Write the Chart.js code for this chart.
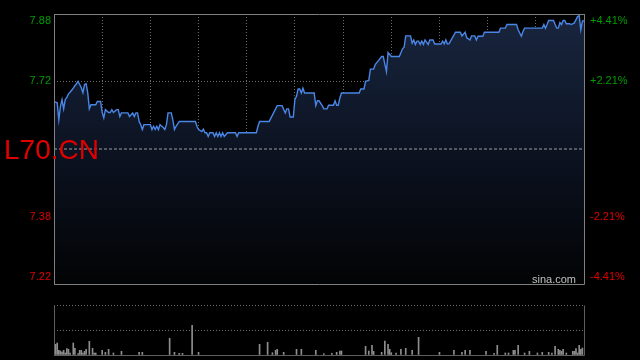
<!DOCTYPE html>
<html>
<head>
<meta charset="utf-8">
<script src="https://cdn.jsdelivr.net/npm/chart.js@4.4.1/dist/chart.umd.min.js"></script>
<style>
  html, body { margin: 0; padding: 0; background: #000; }
  #wrap { position: relative; width: 640px; height: 360px; background: #000; overflow: hidden; font-family: "Liberation Sans", Arial, sans-serif; }
  #priceBox { position: absolute; left: 0; top: 0; width: 640px; height: 290px; }
  #volBox { position: absolute; left: 0; top: 295px; width: 640px; height: 65px; }
  #symbol { position: absolute; left: 4px; top: 136px; font-size: 28px; line-height: 28px; color: #e10000; }
  #brand { position: absolute; left: 532px; top: 273px; font-size: 11px; line-height: 12px; color: #c0c0c0; }
</style>
</head>
<body>
<div id="wrap">
  <div id="priceBox"><canvas id="priceChart"></canvas></div>
  <div id="volBox"><canvas id="volChart"></canvas></div>
  <div id="symbol">L70.CN</div>
  <div id="brand">sina.com</div>
</div>
<script>
// Quote data
const prevClose = 7.55;
const pctTicks = [-4.41, -2.21, 0, 2.21, 4.41];
const gridMinutes = [0, 30, 60, 90, 120, 150, 180, 210, 240, 270, 300, 330];
const volTicks = [0, 25000, 50000];

// minute index -> last price
const times = [
    0, 2, 3, 4, 5, 6, 7, 8, 9, 10,
    11, 12, 13, 14, 15, 16, 17, 18, 19, 20,
    21, 22, 23, 26, 27, 29, 30, 31, 32, 34,
    35, 36, 37, 39, 40, 41, 42, 46, 47, 49,
    50, 51, 52, 53, 54, 55, 56, 60, 61, 62,
    63, 64, 65, 66, 68, 69, 70, 71, 73, 74,
    75, 76, 78, 88, 89, 90, 92, 93, 94, 95,
    96, 97, 99, 100, 101, 102, 103, 104, 105, 106,
    108, 113, 114, 115, 126, 127, 128, 134, 139, 142,
    144, 145, 146, 147, 149, 150, 151, 152, 153, 154,
    155, 156, 162, 163, 164, 165, 167, 168, 170, 171,
    174, 175, 176, 177, 178, 179, 190, 191, 193, 194,
    196, 197, 199, 200, 202, 204, 205, 207, 208, 210,
    215, 217, 218, 219, 222, 223, 224, 225, 226, 227,
    228, 229, 230, 231, 233, 234, 236, 237, 241, 242,
    243, 244, 245, 246, 248, 250, 253, 254, 256, 257,
    259, 260, 262, 263, 264, 267, 268, 277, 278, 281,
    282, 288, 289, 290, 291, 292, 293, 304, 305, 306,
    307, 308, 311, 313, 314, 315, 316, 317, 318, 319,
    321, 322, 324, 326, 327, 328, 329, 330
];
const prices = [
    7.667, 7.664, 7.622, 7.655, 7.672, 7.649, 7.672, 7.677, 7.686, 7.690,
    7.695, 7.700, 7.706, 7.711, 7.717, 7.709, 7.701, 7.689, 7.709, 7.711,
    7.689, 7.649, 7.659, 7.659, 7.667, 7.667, 7.640, 7.627, 7.647, 7.640,
    7.640, 7.647, 7.640, 7.647, 7.647, 7.630, 7.639, 7.639, 7.630, 7.639,
    7.630, 7.639, 7.639, 7.618, 7.610, 7.598, 7.610, 7.610, 7.598, 7.606,
    7.598, 7.606, 7.598, 7.610, 7.603, 7.598, 7.610, 7.639, 7.639, 7.622,
    7.598, 7.606, 7.618, 7.618, 7.606, 7.598, 7.593, 7.599, 7.590, 7.590,
    7.581, 7.590, 7.590, 7.581, 7.590, 7.581, 7.590, 7.581, 7.590, 7.581,
    7.590, 7.590, 7.581, 7.590, 7.590, 7.606, 7.618, 7.618, 7.657, 7.657,
    7.639, 7.649, 7.649, 7.629, 7.629, 7.672, 7.680, 7.698, 7.698, 7.688,
    7.700, 7.688, 7.688, 7.657, 7.669, 7.669, 7.657, 7.649, 7.649, 7.658,
    7.658, 7.669, 7.658, 7.658, 7.676, 7.688, 7.688, 7.698, 7.698, 7.717,
    7.719, 7.747, 7.747, 7.758, 7.768, 7.778, 7.778, 7.741, 7.788, 7.778,
    7.778, 7.797, 7.801, 7.829, 7.829, 7.811, 7.819, 7.808, 7.816, 7.816,
    7.808, 7.816, 7.808, 7.819, 7.808, 7.819, 7.819, 7.809, 7.809, 7.816,
    7.809, 7.819, 7.809, 7.810, 7.824, 7.838, 7.838, 7.829, 7.838, 7.824,
    7.819, 7.829, 7.829, 7.819, 7.828, 7.828, 7.838, 7.838, 7.848, 7.848,
    7.857, 7.857, 7.844, 7.836, 7.828, 7.840, 7.848, 7.848, 7.857, 7.848,
    7.857, 7.867, 7.867, 7.848, 7.848, 7.862, 7.857, 7.867, 7.867, 7.859,
    7.859, 7.857, 7.861, 7.877, 7.879, 7.844, 7.865, 7.867
];

// minute index -> traded volume
const volTimes = [
    1, 2, 3, 4, 5, 6, 7, 8, 9, 10, 12, 13, 15, 16, 17, 18, 19, 20, 22, 24,
    25, 26, 30, 32, 34, 37, 42, 53, 55, 72, 75, 78, 80, 86, 90, 128, 133, 136, 138, 139,
    143, 151, 154, 163, 168, 173, 176, 178, 179, 194, 196, 198, 199, 204, 206, 208, 209, 210, 213, 216,
    219, 223, 227, 240, 249, 254, 256, 259, 269, 274, 276, 281, 283, 286, 287, 289, 293, 296, 301, 304,
    308, 310, 312, 314, 315, 316, 317, 319, 323, 324, 325, 326, 327, 328, 329
];
const volumes = [
    10700, 12000, 4700, 4000, 3000, 4700, 2000, 6300, 5700, 2000, 12000, 6700, 1300, 4700, 4700, 2000, 3700, 5700, 13700, 6700,
    2000, 2000, 4700, 2700, 5700, 2000, 3700, 2700, 2700, 16700, 2700, 1700, 1700, 29700, 2700, 10700, 12700, 2300, 4700, 5700,
    2700, 5700, 5700, 4700, 1300, 1700, 2700, 4000, 4000, 8700, 4000, 9700, 3700, 2700, 14000, 10700, 5700, 2300, 2000, 5700,
    6700, 4700, 17700, 2700, 4700, 2700, 4700, 4700, 3700, 1700, 9700, 2000, 2000, 4700, 4700, 9700, 2000, 3700, 2000, 2700,
    2700, 2000, 8700, 5700, 4700, 3700, 5700, 2000, 3700, 3700, 6300, 2000, 9700, 5700, 7000
];

const priceTicks = pctTicks.map(p => prevClose * (1 + p / 100));
const priceMin = priceTicks[0];
const priceMax = priceTicks[priceTicks.length - 1];

const GREEN = '#009c00';
const RED = '#e00000';
const GRID = '#6c6c6c';
const FRAME = '#808080';
const FONT = { family: '"Liberation Sans", Arial, sans-serif', size: 11 };

function isPrev(v) {
    return Math.abs(v - prevClose) < 1e-6;
}

function labelColor(ctx) {
    return ctx.tick && ctx.tick.value > prevClose ? GREEN : RED;
}

// push the edge labels inside the frame by using a blank second line
function edgeLabel(text, index, count) {
    if (index === 0) return [text, ''];
    if (index === count - 1) return ['', text];
    return text;
}

// fixed axis width, no extra room asked for the labels
function fixWidth(w) {
    return s => {
        s.width = w;
        s.paddingTop = 0;
        s.paddingBottom = 0;
    };
}

// solid frame round the plot area
function makeFrame(color, withTop) {
    return {
        id: 'frame',
        afterDraw(chart) {
            const { ctx, chartArea: a } = chart;
            const l = Math.round(a.left) + 0.5, r = Math.round(a.right) + 0.5;
            const t = Math.round(a.top) + 0.5, b = Math.round(a.bottom) + 0.5;
            ctx.save();
            ctx.strokeStyle = color;
            ctx.lineWidth = 1;
            ctx.beginPath();
            if (withTop) { ctx.moveTo(l, t); ctx.lineTo(r, t); }
            ctx.moveTo(l, t); ctx.lineTo(l, b);
            ctx.moveTo(r, t); ctx.lineTo(r, b);
            ctx.moveTo(l, b); ctx.lineTo(r, b);
            ctx.stroke();
            ctx.restore();
        }
    };
}

// Price chart
const priceCtx = document.getElementById('priceChart').getContext('2d');
const priceChart = new Chart(priceCtx, {
    type: 'line',
    data: {
        datasets: [{
            data: times.map((t, i) => ({ x: t, y: prices[i] })),
            borderColor: '#4a86e6',
            borderWidth: 1.4,
            pointRadius: 0,
            tension: 0,
            order: 1,
            fill: 'start',
            backgroundColor: ctx => {
                const a = ctx.chart.chartArea;
                if (!a) return 'rgba(0,0,0,0)';
                const g = ctx.chart.ctx.createLinearGradient(0, a.top, 0, a.bottom);
                g.addColorStop(0, '#19263f');
                g.addColorStop(0.5, '#0c1322');
                g.addColorStop(1, '#020304');
                return g;
            }
        }, {
            // previous close reference line
            data: [{ x: gridMinutes[0], y: prevClose }, { x: gridMinutes[gridMinutes.length - 1], y: prevClose }],
            borderColor: '#a0a0a0',
            borderWidth: 1,
            borderDash: [3, 2],
            pointRadius: 0,
            fill: false,
            order: 0
        }]
    },
    options: {
        animation: false,
        responsive: true,
        maintainAspectRatio: false,
        layout: { padding: { top: 14, bottom: 6, left: 0, right: 0 } },
        plugins: {
            legend: { display: false },
            tooltip: { enabled: false }
        },
        scales: {
            x: {
                type: 'linear',
                min: 0,
                max: 330,
                afterBuildTicks: s => { s.ticks = gridMinutes.map(v => ({ value: v })); },
                afterFit: s => { s.height = 0; s.paddingLeft = 0; s.paddingRight = 0; },
                ticks: { display: false },
                grid: { color: GRID, drawTicks: false },
                border: { display: false, dash: [1, 2] }
            },
            y: {
                position: 'left',
                min: priceMin,
                max: priceMax,
                afterBuildTicks: s => { s.ticks = priceTicks.map(v => ({ value: v })); },
                afterFit: fixWidth(54),
                ticks: {
                    padding: 3,
                    font: FONT,
                    color: labelColor,
                    callback: (v, i, ticks) => isPrev(v) ? '' : edgeLabel(v.toFixed(2), i, ticks.length)
                },
                grid: { color: GRID, drawTicks: false },
                border: { display: false, dash: [1, 2] }
            },
            y2: {
                position: 'right',
                min: priceMin,
                max: priceMax,
                afterBuildTicks: s => { s.ticks = priceTicks.map(v => ({ value: v })); },
                afterFit: fixWidth(56),
                ticks: {
                    padding: 6,
                    font: FONT,
                    color: labelColor,
                    callback: (v, i, ticks) => {
                        if (isPrev(v)) return '';
                        const p = pctTicks[i];
                        return edgeLabel((p > 0 ? '+' : '') + p.toFixed(2) + '%', i, ticks.length);
                    }
                },
                grid: { drawOnChartArea: false, drawTicks: false },
                border: { display: false }
            }
        }
    },
    plugins: [makeFrame(FRAME, true)]
});

// Volume chart
const volCtx = document.getElementById('volChart').getContext('2d');
const volChart = new Chart(volCtx, {
    type: 'bar',
    data: {
        datasets: [{
            data: volTimes.map((t, i) => ({ x: t, y: volumes[i] })),
            backgroundColor: '#8e8e8e',
            borderWidth: 0,
            barThickness: 1
        }]
    },
    options: {
        animation: false,
        responsive: true,
        maintainAspectRatio: false,
        layout: { padding: { top: 10, bottom: 5, left: 0, right: 0 } },
        plugins: {
            legend: { display: false },
            tooltip: { enabled: false }
        },
        scales: {
            x: {
                type: 'linear',
                min: 0,
                max: 330,
                offset: false,
                afterFit: s => { s.height = 0; s.paddingLeft = 0; s.paddingRight = 0; },
                ticks: { display: false },
                grid: { display: false },
                border: { display: false }
            },
            y: {
                min: 0,
                max: volTicks[volTicks.length - 1],
                afterBuildTicks: s => { s.ticks = volTicks.map(v => ({ value: v })); },
                afterFit: fixWidth(54),
                ticks: { display: false },
                grid: { color: GRID, drawTicks: false },
                border: { display: false, dash: [1, 2] }
            },
            y2: {
                position: 'right',
                afterFit: fixWidth(56),
                ticks: { display: false },
                grid: { display: false },
                border: { display: false }
            }
        }
    },
    plugins: [makeFrame('#5e5e5e', false)]
});
</script>
</body>
</html>
